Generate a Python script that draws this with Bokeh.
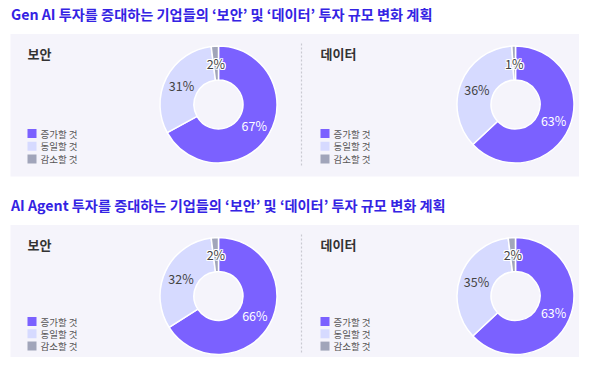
import math
from bokeh.plotting import figure
from bokeh.models import Range1d
from bokeh.core.properties import value
from bokeh.embed import file_html
from bokeh.resources import INLINE

# ---------------- data ----------------
section_titles = [
    "Gen AI 투자를 증대하는 기업들의 ‘보안’ 및 ‘데이터’ 투자 규모 변화 계획",
    "AI Agent 투자를 증대하는 기업들의 ‘보안’ 및 ‘데이터’ 투자 규모 변화 계획",
]
panel_titles = ["보안", "데이터"]
categories = ["증가할 것", "동일할 것", "감소할 것"]
gen_ai_security = [67, 31, 2]
gen_ai_data = [63, 36, 1]
agent_security = [66, 32, 2]
agent_data = [63, 35, 2]
series = [[gen_ai_security, gen_ai_data], [agent_security, agent_data]]

# ---------------- style ----------------
colors = ["#7B61FF", "#D6DAFF", "#A1A5BA"]
label_colors = ["#FFFFFF", "#444444", "#444444"]
TITLE_COLOR = "#3423E3"
PANEL_BG = "#F5F4FB"
FONT = "Noto Sans CJK KR"

W, H = 579, 357


def X(rx):
    return rx


def Y(ry):
    return H - ry


p = figure(width=W, height=H, x_range=Range1d(0, W), y_range=Range1d(0, H),
           output_backend="svg", toolbar_location=None,
           x_axis_type=None, y_axis_type=None, min_border=0)
p.grid.visible = False
p.outline_line_color = None
p.background_fill_color = "white"
p.border_fill_color = "white"

# layout (screen coords, top-left origin)
title_y = [13.5, 204]
panel_top = [33.5, 224.5]
panel_bottom = [176, 400]
donut_cy = [104, 295.5]
donut_cx = [218, 515]
col_x0 = [27, 320]
legend_off = [99.5, 96.5]
legend_step = [12.7, 12.3]
divider_x = 301
R_OUT, R_IN = 58.5, 24.5
R_LAB = (R_OUT + R_IN) / 2

for s in range(2):
    # section title
    p.text(x=[X(10.5)], y=[Y(title_y[s])], text=[section_titles[s]],
           text_font=value(FONT), text_font_size="14.2px", text_font_style="bold",
           text_color=TITLE_COLOR, text_align="left", text_baseline="middle")
    # panel background
    p.quad(left=[X(10)], right=[X(600)], top=[Y(panel_top[s])], bottom=[Y(panel_bottom[s])],
           fill_color=PANEL_BG, line_color=None)
    # divider
    p.segment(x0=[X(divider_x)], y0=[Y(panel_top[s] + 9.5)], x1=[X(divider_x)],
              y1=[Y(min(panel_top[s] + 132, H - 4))], line_color="#C9C9D2", line_width=1.2,
              line_dash="2 2")
    sub_y = panel_top[s] + 19
    leg_y0 = panel_top[s] + legend_off[s]
    for c in range(2):
        vals = series[s][c]
        # panel subtitle
        p.text(x=[X(col_x0[c])], y=[Y(sub_y)], text=[panel_titles[c]],
               text_font=value(FONT), text_font_size="13px", text_font_style="bold",
               text_color="#333333", text_align="left", text_baseline="middle")
        # legend
        for i, cat in enumerate(categories):
            ly = leg_y0 + i * legend_step[s]
            p.quad(left=[X(col_x0[c])], right=[X(col_x0[c] + 9)],
                   top=[Y(ly - 4.5)], bottom=[Y(ly + 4.5)],
                   fill_color=colors[i], line_color=None)
            p.text(x=[X(col_x0[c] + 13)], y=[Y(ly)], text=[cat],
                   text_font=value(FONT), text_font_size="9.5px",
                   text_color="#555555", text_align="left", text_baseline="middle")
        # donut
        total = float(sum(vals))
        cx, cy = X(donut_cx[c]), Y(donut_cy[s])
        starts, ends, mids = [], [], []
        cum = 0.0
        for v in vals:
            a0 = math.pi / 2 - 2 * math.pi * cum / total
            cum += v
            a1 = math.pi / 2 - 2 * math.pi * cum / total
            starts.append(a0)
            ends.append(a1)
            mids.append((a0 + a1) / 2)
        p.annular_wedge(x=[cx] * 3, y=[cy] * 3, inner_radius=R_IN, outer_radius=R_OUT,
                        start_angle=starts, end_angle=ends, direction="clock",
                        fill_color=colors, line_color="white", line_width=1.5)
        # labels
        for i, v in enumerate(vals):
            lx = cx + R_LAB * math.cos(mids[i])
            ly2 = cy + R_LAB * math.sin(mids[i])
            txt = f"{v}%"
            if i == 2:
                for dx, dy in [(-1, 0), (1, 0), (0, -1), (0, 1), (-1, -1), (1, 1), (-1, 1), (1, -1)]:
                    p.text(x=[lx + dx], y=[ly2 + dy], text=[txt],
                           text_font=value(FONT), text_font_size="12.5px",
                           text_color="white", text_align="center", text_baseline="middle")
            p.text(x=[lx], y=[ly2], text=[txt], text_font=value(FONT),
                   text_font_size="12.5px", text_color=label_colors[i],
                   text_align="center", text_baseline="middle")

open("out.html", "w").write(file_html(p, INLINE))
